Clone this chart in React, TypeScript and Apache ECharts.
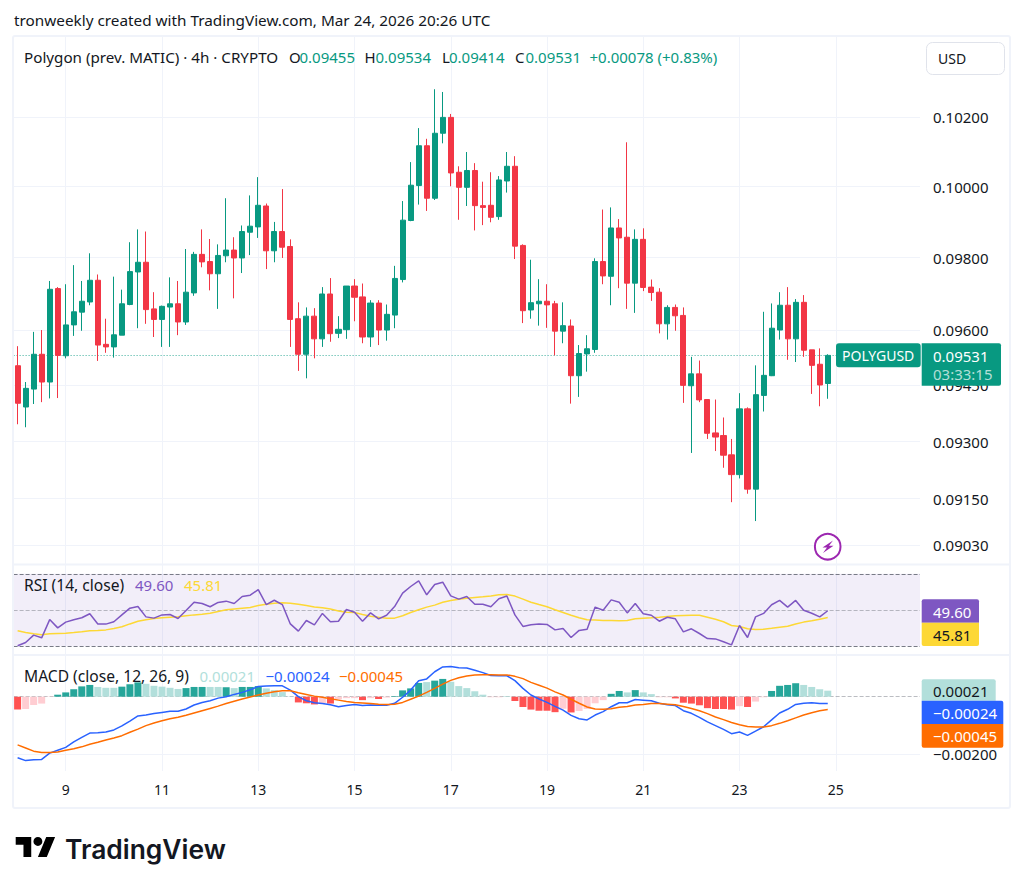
import React, { useEffect, useRef } from "react";
import * as echarts from "echarts";

const opens = [0.09503,0.09392,0.09440,0.09534,0.09459,0.09714,0.09530,0.09614,0.09649,0.09677,0.09737,0.09561,0.09554,0.09586,0.09670,0.09760,0.09787,0.09658,0.09629,0.09663,0.09672,0.09622,0.09702,0.09809,0.09789,0.09755,0.09805,0.09821,0.09799,0.09871,0.09886,0.09945,0.09819,0.09873,0.09831,0.09631,0.09534,0.09638,0.09576,0.09699,0.09591,0.09601,0.09721,0.09691,0.09581,0.09674,0.09600,0.09641,0.09739,0.09904,0.10003,0.10117,0.09967,0.10153,0.10199,0.10041,0.09998,0.10046,0.09946,0.09947,0.09915,0.10016,0.10058,0.09834,0.09655,0.09672,0.09679,0.09672,0.09597,0.09611,0.09476,0.09535,0.09547,0.09789,0.09748,0.09883,0.09857,0.09729,0.09851,0.09718,0.09704,0.09617,0.09662,0.09640,0.09449,0.09481,0.09412,0.09323,0.09316,0.09265,0.09213,0.09387,0.09175,0.09423,0.09476,0.09600,0.09668,0.09576,0.09676,0.09546,0.09507,0.09455];
const closes = [0.09402,0.09442,0.09534,0.09459,0.09712,0.09531,0.09614,0.09650,0.09679,0.09737,0.09559,0.09554,0.09587,0.09672,0.09761,0.09787,0.09656,0.09629,0.09665,0.09672,0.09622,0.09704,0.09809,0.09788,0.09755,0.09806,0.09821,0.09799,0.09873,0.09888,0.09947,0.09819,0.09873,0.09829,0.09629,0.09534,0.09638,0.09576,0.09699,0.09590,0.09602,0.09721,0.09690,0.09581,0.09674,0.09600,0.09643,0.09742,0.09905,0.10004,0.10117,0.09967,0.10153,0.10199,0.10039,0.09998,0.10046,0.09946,0.09941,0.09913,0.10019,0.10058,0.09832,0.09653,0.09675,0.09679,0.09669,0.09597,0.09612,0.09476,0.09536,0.09549,0.09789,0.09749,0.09883,0.09855,0.09729,0.09851,0.09717,0.09703,0.09617,0.09662,0.09639,0.09450,0.09481,0.09411,0.09322,0.09312,0.09264,0.09213,0.09387,0.09175,0.09425,0.09477,0.09605,0.09668,0.09576,0.09676,0.09545,0.09504,0.09451,0.09531];
const lows = [0.09346,0.09338,0.09400,0.09405,0.09415,0.09416,0.09523,0.09584,0.09598,0.09668,0.09516,0.09538,0.09525,0.09586,0.09668,0.09605,0.09617,0.09581,0.09554,0.09554,0.09586,0.09614,0.09694,0.09773,0.09709,0.09658,0.09787,0.09687,0.09757,0.09807,0.09855,0.09768,0.09787,0.09799,0.09554,0.09489,0.09469,0.09523,0.09554,0.09568,0.09578,0.09576,0.09624,0.09564,0.09554,0.09559,0.09571,0.09605,0.09731,0.09902,0.09949,0.09931,0.09962,0.10124,0.10001,0.09906,0.09945,0.09876,0.09891,0.09899,0.09906,0.09983,0.09796,0.09619,0.09631,0.09612,0.09606,0.09531,0.09564,0.09401,0.09419,0.09487,0.09538,0.09726,0.09668,0.09715,0.09658,0.09647,0.09707,0.09680,0.09591,0.09574,0.09598,0.09403,0.09270,0.09405,0.09307,0.09275,0.09231,0.09141,0.09203,0.09163,0.09092,0.09380,0.09475,0.09574,0.09519,0.09513,0.09527,0.09427,0.09394,0.09414];
const highs = [0.09556,0.09459,0.09595,0.09600,0.09735,0.09718,0.09726,0.09779,0.09735,0.09812,0.09753,0.09631,0.09747,0.09711,0.09843,0.09879,0.09873,0.09704,0.09667,0.09745,0.09735,0.09824,0.09816,0.09879,0.09852,0.09837,0.09967,0.09857,0.09890,0.09975,0.10027,0.09952,0.09900,0.09993,0.09851,0.09676,0.09662,0.09660,0.09718,0.09743,0.09638,0.09721,0.09740,0.09728,0.09682,0.09682,0.09670,0.09777,0.09959,0.10070,0.10168,0.10137,0.10281,0.10273,0.10209,0.10058,0.10099,0.10067,0.10014,0.10041,0.10030,0.10099,0.10087,0.09837,0.09794,0.09740,0.09726,0.09680,0.09676,0.09629,0.09559,0.09586,0.09798,0.09935,0.09941,0.09908,0.10127,0.09879,0.09882,0.09739,0.09715,0.09668,0.09670,0.09662,0.09527,0.09517,0.09412,0.09412,0.09364,0.09307,0.09429,0.09391,0.09504,0.09650,0.09673,0.09704,0.09718,0.09685,0.09696,0.09546,0.09550,0.09534];

const rsi = [30.2,32.0,36.1,34.6,44.7,40.1,43.3,44.6,45.7,47.9,42.3,42.2,43.5,47.3,51.0,51.9,46.2,45.5,47.3,47.5,45.3,49.7,54.3,53.6,51.8,54.2,54.9,53.6,57.5,58.2,61.3,53.0,55.4,53.0,42.3,38.3,44.2,41.8,48.1,43.5,43.8,50.3,48.8,43.8,48.4,45.1,47.1,51.9,59.3,63.0,66.1,58.4,64.1,65.4,57.8,56.0,57.5,53.2,53.2,51.8,56.2,57.7,47.3,40.9,41.8,42.2,42.0,39.0,39.8,34.8,38.7,39.4,51.6,49.9,55.6,54.3,48.4,53.6,47.9,47.1,43.8,46.0,45.1,37.9,39.6,37.0,34.2,34.0,32.4,30.7,41.4,34.8,46.2,48.1,52.9,55.3,51.6,55.3,49.9,48.2,46.2,49.6];
const rsiMa = [38.5,37.5,36.8,36.3,36.8,37.0,37.2,37.5,37.9,38.5,38.7,39.0,39.8,40.7,42.3,43.8,44.6,45.3,45.7,46.0,46.2,46.8,47.3,47.7,48.2,49.2,50.1,50.6,51.0,51.4,52.5,53.2,53.8,54.0,53.8,53.2,52.5,51.6,51.2,50.5,49.5,48.8,48.6,47.5,46.6,46.0,45.5,45.5,46.8,48.6,50.1,51.6,52.7,54.3,55.2,56.0,56.5,56.9,57.3,57.8,58.4,58.6,57.7,56.0,54.3,53.0,51.8,50.1,48.6,47.1,45.7,44.6,44.4,44.2,44.2,44.0,44.2,45.1,45.5,45.7,46.0,46.4,46.8,47.0,47.1,47.1,46.0,44.9,43.5,41.4,40.9,39.6,39.2,39.4,39.9,40.5,41.0,42.3,43.3,44.0,44.9,45.81];

const macd = [-0.00213,-0.00223,-0.00220,-0.00219,-0.00197,-0.00187,-0.00177,-0.00158,-0.00142,-0.00127,-0.00126,-0.00123,-0.00116,-0.00102,-0.00085,-0.00067,-0.00064,-0.00059,-0.00055,-0.00051,-0.00051,-0.00043,-0.00029,-0.00020,-0.00014,-0.00005,0,0.00008,0.00015,0.00024,0.00036,0.00037,0.00038,0.00038,0.00023,0,-0.00014,-0.00021,-0.00024,-0.00028,-0.00035,-0.00031,-0.00027,-0.00031,-0.00029,-0.00030,-0.00030,-0.00023,-0.00002,0.00023,0.00056,0.00062,0.00087,0.00104,0.00105,0.00101,0.00100,0.00092,0.00084,0.00074,0.00073,0.00073,0.00056,0.00029,0.00006,-0.00008,-0.00020,-0.00034,-0.00047,-0.00065,-0.00077,-0.00081,-0.00064,-0.00052,-0.00035,-0.00021,-0.00021,-0.00010,-0.00012,-0.00014,-0.00023,-0.00028,-0.00031,-0.00049,-0.00058,-0.00072,-0.00088,-0.00101,-0.00114,-0.00129,-0.00123,-0.00135,-0.00120,-0.00105,-0.00081,-0.00057,-0.00044,-0.00027,-0.00023,-0.00021,-0.00024,-0.00024];
const signal = [-0.00168,-0.00179,-0.00190,-0.00195,-0.00195,-0.00193,-0.00187,-0.00182,-0.00175,-0.00166,-0.00159,-0.00151,-0.00144,-0.00136,-0.00124,-0.00113,-0.00101,-0.00092,-0.00084,-0.00077,-0.00072,-0.00065,-0.00057,-0.00049,-0.00041,-0.00033,-0.00024,-0.00016,-0.00008,-0.00001,0.00006,0.00012,0.00017,0.00021,0.00021,0.00014,0.00008,0.00002,-0.00002,-0.00007,-0.00012,-0.00017,-0.00020,-0.00022,-0.00024,-0.00026,-0.00027,-0.00026,-0.00020,-0.00009,0.00002,0.00015,0.00029,0.00044,0.00057,0.00066,0.00072,0.00076,0.00077,0.00077,0.00076,0.00076,0.00071,0.00063,0.00050,0.00040,0.00030,0.00017,0.00006,-0.00009,-0.00023,-0.00036,-0.00043,-0.00044,-0.00042,-0.00037,-0.00034,-0.00029,-0.00027,-0.00024,-0.00024,-0.00026,-0.00028,-0.00034,-0.00041,-0.00049,-0.00059,-0.00071,-0.00080,-0.00090,-0.00098,-0.00104,-0.00106,-0.00106,-0.00101,-0.00093,-0.00084,-0.00074,-0.00064,-0.00056,-0.00049,-0.00045];
const hist = [-0.00045,-0.00043,-0.00029,-0.00024,-0.00001,0.00007,0.00015,0.00026,0.00036,0.00041,0.00034,0.00031,0.00031,0.00035,0.00043,0.00050,0.00045,0.00038,0.00035,0.00031,0.00027,0.00030,0.00034,0.00034,0.00034,0.00034,0.00033,0.00030,0.00034,0.00034,0.00037,0.00029,0.00023,0.00016,0.00001,-0.00020,-0.00023,-0.00027,-0.00022,-0.00024,-0.00009,-0.00005,-0.00005,-0.00012,-0.00005,-0.00008,-0.00003,0.00002,0.00022,0.00029,0.00048,0.00051,0.00056,0.00062,0.00052,0.00037,0.00030,0.00019,0.00007,-0.00002,-0.00002,0.00002,-0.00015,-0.00036,-0.00045,-0.00049,-0.00049,-0.00054,-0.00042,-0.00055,-0.00050,-0.00043,-0.00023,-0.00012,0.00010,0.00020,0.00015,0.00023,0.00015,0.00009,-0.00002,-0.00002,-0.00006,-0.00021,-0.00024,-0.00030,-0.00040,-0.00043,-0.00043,-0.00045,-0.00033,-0.00036,-0.00017,-0.00002,0.00020,0.00038,0.00041,0.00047,0.00041,0.00034,0.00026,0.00021];
const histStrong = [1,0,0,0,0,1,1,1,1,1,0,0,0,1,1,1,0,0,0,0,0,1,1,1,0,0,1,0,1,1,1,0,0,0,0,1,1,1,0,1,0,0,0,1,0,1,0,1,1,1,1,0,1,1,0,0,0,0,0,0,0,0,1,1,1,1,1,1,0,1,0,0,0,0,1,1,0,1,0,0,0,0,1,1,1,1,1,1,1,1,0,1,0,0,1,1,1,1,0,0,0,0];

const priceTicks = [0.102, 0.1, 0.098, 0.096, 0.0945, 0.093, 0.0915, 0.0903];
const lastPrice = 0.09531;
const dayLabels: Record<number, string> = { 6: "9", 18: "11", 30: "13", 42: "15", 54: "17", 66: "19", 78: "21", 90: "23", 102: "25" };
const slotCount = 113;
const categories = Array.from({ length: slotCount }, (_, i) => dayLabels[i] ?? `b${i}`);

const UP = "#089981";
const DOWN = "#F23645";
const INK = "#131722";
const GRID = "#f0f3fa";
const FONT = '"Noto Sans"';
const NUM = 15;

const isDay = (i: number) => dayLabels[i] !== undefined;

function txt(x: number, y: number, text: string, fill = INK, size = NUM, extra: any = {}) {
  return {
    type: "text", x, y, z: 100, silent: true,
    style: { text, fill, fontFamily: FONT, fontSize: size, verticalAlign: "middle", ...extra },
  };
}
function tag(x: number, y: number, w: number, h: number, fill: string, r: any = 2) {
  return { type: "rect", z: 99, silent: true, shape: { x, y, width: w, height: h, r }, style: { fill } };
}

echarts.graphic.registerShape(
  "tvLogo",
  echarts.graphic.extendPath("M14 22H7V11H0V4h14v18zM28 22h-8l7.5-18h8L28 22z M24 8a4 4 0 1 1-8 0a4 4 0 1 1 8 0z", {}) as any
);

export default function App() {
  const ref = useRef<HTMLDivElement>(null);
  useEffect(() => {
    const chart = echarts.init(ref.current!, undefined, { renderer: "svg" });
    const left = 13.6;
    const width = 906.4;
    const grids = [
      { left, width, top: 36, height: 529 },
      { left, width, top: 565, height: 90 },
      { left, width, top: 655, height: 116 },
    ];
    const xAxis = grids.map((_, g) => ({
      type: "category",
      gridIndex: g,
      data: categories,
      boundaryGap: true,
      axisLine: { show: false },
      axisTick: { show: false, alignWithLabel: true, interval: (i: number) => isDay(i) },
      splitLine: { show: true, alignWithLabel: true, interval: (i: number) => isDay(i), lineStyle: { color: GRID, width: 1 } },
      axisLabel: {
        show: g === 2,
        interval: (i: number) => isDay(i),
        color: INK,
        fontFamily: FONT,
        fontSize: 14,
        margin: 11,
        hideOverlap: false,
      },
    }));
    const hiddenY = { axisLine: { show: false }, axisTick: { show: false }, axisLabel: { show: false }, splitLine: { show: false } };
    const option: any = {
      animation: false,
      backgroundColor: "#ffffff",
      grid: grids,
      xAxis,
      yAxis: [
        { type: "log", logBase: 10, gridIndex: 0, position: "right", min: 0.08979, max: 0.10438, ...hiddenY },
        { type: "value", gridIndex: 1, position: "right", min: 25.1, max: 74.9, ...hiddenY },
        { type: "value", gridIndex: 2, position: "right", min: -0.002593, max: 0.001455, ...hiddenY },
      ],
      series: [
        {
          type: "candlestick",
          name: "POLYGUSD",
          xAxisIndex: 0,
          yAxisIndex: 0,
          z: 3,
          barWidth: 5.6,
          data: opens.map((o, i) => [o, closes[i], lows[i], highs[i]]),
          itemStyle: { color: UP, color0: DOWN, borderColor: UP, borderColor0: DOWN, borderWidth: 1 },
          markLine: {
            silent: true,
            z: 1,
            symbol: "none",
            precision: 5,
            lineStyle: { color: GRID, width: 1, type: "solid" },
            label: { position: "end", distance: 13, color: INK, fontFamily: FONT, fontSize: NUM },
            data: [
              ...priceTicks.map((v) => ({ yAxis: v, label: { formatter: v.toFixed(5) } })),
              { yAxis: lastPrice, label: { show: false }, lineStyle: { color: "rgba(8,153,129,0.8)", type: [1, 2], width: 1 } },
            ],
          },
        },
        {
          type: "line",
          name: "RSI",
          xAxisIndex: 1,
          yAxisIndex: 1,
          z: 3,
          data: rsi,
          showSymbol: false,
          lineStyle: { color: "#7E57C2", width: 1.5 },
          markArea: {
            silent: true,
            z: 0,
            itemStyle: { color: "rgba(126,87,194,0.1)" },
            data: [[{ yAxis: 70 }, { yAxis: 30 }]],
          },
          markLine: {
            silent: true,
            z: 1,
            symbol: "none",
            label: { show: false },
            data: [
              { yAxis: 70, lineStyle: { color: "#787B86", type: "dashed", width: 1 } },
              { yAxis: 50, lineStyle: { color: "rgba(120,123,134,0.5)", type: "dashed", width: 1 } },
              { yAxis: 30, lineStyle: { color: "#787B86", type: "dashed", width: 1 } },
            ],
          },
        },
        {
          type: "line",
          name: "RSI MA",
          xAxisIndex: 1,
          yAxisIndex: 1,
          z: 2,
          data: rsiMa,
          showSymbol: false,
          lineStyle: { color: "#FDD835", width: 1.5 },
        },
        {
          type: "bar",
          name: "Histogram",
          xAxisIndex: 2,
          yAxisIndex: 2,
          z: 2,
          barWidth: 7,
          data: hist.map((v, i) => ({
            value: v,
            itemStyle: {
              color: v >= 0 ? (histStrong[i] ? "#26A69A" : "#B2DFDB") : histStrong[i] ? "#FF5252" : "#FFCDD2",
            },
          })),
          markLine: {
            silent: true,
            z: 1,
            symbol: "none",
            precision: 5,
            data: [
              { yAxis: 0, label: { show: false }, lineStyle: { color: "rgba(120,123,134,0.5)", type: "dashed", width: 1 } },
              {
                yAxis: -0.002,
                lineStyle: { color: GRID, type: "solid", width: 1 },
                label: { show: true, position: "end", distance: 13, color: INK, fontFamily: FONT, fontSize: NUM, formatter: "\u22120.00200" },
              },
            ],
          },
        },
        {
          type: "line",
          name: "MACD",
          xAxisIndex: 2,
          yAxisIndex: 2,
          z: 3,
          data: macd,
          showSymbol: false,
          lineStyle: { color: "#2962FF", width: 1.5 },
        },
        {
          type: "line",
          name: "Signal",
          xAxisIndex: 2,
          yAxisIndex: 2,
          z: 4,
          data: signal,
          showSymbol: false,
          lineStyle: { color: "#FF6D00", width: 1.5 },
        },
      ],
      graphic: {
        elements: [
          // frame and pane separators
          { type: "rect", z: 90, silent: true, shape: { x: 13, y: 36, width: 997, height: 772, r: 2 }, style: { fill: "none", stroke: GRID, lineWidth: 2 } },
          { type: "line", z: 90, silent: true, shape: { x1: 13, y1: 564.5, x2: 1010, y2: 564.5 }, style: { stroke: GRID, lineWidth: 2 } },
          { type: "line", z: 90, silent: true, shape: { x1: 13, y1: 655, x2: 1010, y2: 655 }, style: { stroke: GRID, lineWidth: 2 } },
          // attribution
          txt(14, 20, "tronweekly created with TradingView.com, Mar 24, 2026 20:26 UTC", INK, 15.3),
          // legend
          txt(24, 57, "Polygon (prev. MATIC) · 4h · CRYPTO", INK, 15.2),
          txt(289, 57, "O", INK, 15), txt(299.5, 57, "0.09455", UP, 15),
          txt(364.5, 57, "H", INK, 15), txt(375.5, 57, "0.09534", UP, 15),
          txt(442, 57, "L", INK, 15), txt(449, 57, "0.09414", UP, 15),
          txt(515, 57, "C", INK, 15), txt(525.5, 57, "0.09531", UP, 15),
          txt(589.5, 57, "+0.00078 (+0.83%)", UP, 15),
          // currency box
          { type: "rect", z: 99, silent: true, shape: { x: 926.5, y: 42.5, width: 78, height: 32, r: 6 }, style: { fill: "#fff", stroke: "#e0e3eb", lineWidth: 1 } },
          txt(938, 58, "USD", INK, 14),
          // price tags
          tag(836, 343.3, 84.7, 24, UP, 3),
          txt(842, 355.3, "POLYGUSD", "#ffffff", 14),
          tag(921.7, 343.3, 79.3, 42.4, UP, [0, 2, 2, 0]),
          txt(933, 356, "0.09531", "#ffffff"),
          txt(933, 374, "03:33:15", "rgba(255,255,255,0.7)"),
          // flash icon
          { type: "circle", z: 99, silent: true, shape: { cx: 827.7, cy: 546.7, r: 12.8 }, style: { fill: "#fff", stroke: "#9C27B0", lineWidth: 2 } },
          { type: "polygon", z: 100, silent: true, shape: { points: [[833, 540.5], [822.5, 547.5], [827, 547.5], [823, 553], [833.5, 545.7], [829, 545.7]] }, style: { fill: "#9C27B0" } },
          // RSI legend and tags
          txt(24, 585, "RSI (14, close)", INK, 15.6),
          txt(135, 585, "49.60", "#7E57C2", 15),
          txt(184, 585, "45.81", "#FDD835", 15),
          tag(921.7, 599.3, 57.3, 23.4, "#7E57C2", [2, 2, 0, 0]),
          tag(921.7, 622.7, 57.3, 23.3, "#FDD835", [0, 0, 2, 2]),
          txt(933, 611.5, "49.60", "#ffffff"),
          txt(933, 634.5, "45.81", INK),
          // MACD legend and tags
          txt(24, 676, "MACD (close, 12, 26, 9)", INK, 15.6),
          txt(199.5, 676, "0.00021", "#B2DFDB", 15),
          txt(265.5, 676, "\u22120.00024", "#2962FF", 15),
          txt(339, 676, "\u22120.00045", "#FF6D00", 15),
          tag(921.7, 679.3, 74, 21.4, "#B2DFDB", [2, 2, 0, 0]),
          tag(921.7, 700.7, 81.6, 23.3, "#2962FF", [0, 2, 0, 0]),
          tag(921.7, 724, 81.6, 23.7, "#FF6D00", [0, 0, 2, 2]),
          txt(933, 690.5, "0.00021", INK),
          txt(933, 712.5, "\u22120.00024", "#ffffff"),
          txt(933, 736, "\u22120.00045", "#ffffff"),
          // brand
          { type: "tvLogo", z: 100, silent: true, x: 15.7, y: 832.6, scaleX: 1.11, scaleY: 1.11, style: { fill: "#000000" } },
          { type: "text", z: 100, x: 65, y: 849, silent: true, style: { text: "TradingView", fill: "#131722", fontFamily: "Inter", fontWeight: 600, fontSize: 26.4, verticalAlign: "middle" } },
        ],
      },
    };
    chart.setOption(option);
    return () => chart.dispose();
  }, []);
  return <div ref={ref} style={{ position: "fixed", left: 0, top: 0, width: 1024, height: 888, background: "#fff" }} />;
}
